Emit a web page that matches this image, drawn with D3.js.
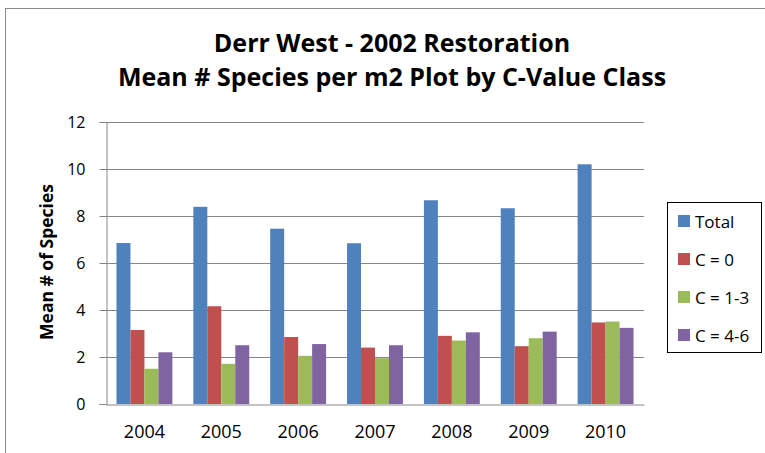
<!DOCTYPE html>
<html lang="en">
  <head>
    <meta charset="UTF-8" />
    <title>Derr West - 2002 Restoration</title>
    <script src="https://cdn.jsdelivr.net/npm/d3@7"></script>
    <style>
      body { margin: 0; background: #fff; }
      svg { display: block; font-family: "Open Sans", "Noto Sans", sans-serif; }
    </style>
  </head>
  <body>
    <svg width="765" height="453"></svg>
    <script>
      const years = ["2004", "2005", "2006", "2007", "2008", "2009", "2010"];
      const seriesNames = ["Total", "C = 0", "C = 1-3", "C = 4-6"];
      const total = [6.85, 8.39, 7.46, 6.84, 8.67, 8.33, 10.2];
      const c0 = [3.15, 4.16, 2.85, 2.4, 2.9, 2.46, 3.47];
      const c13 = [1.5, 1.71, 2.05, 1.95, 2.7, 2.8, 3.51];
      const c46 = [2.2, 2.5, 2.55, 2.5, 3.05, 3.08, 3.24];
      const yTicks = [0, 2, 4, 6, 8, 10, 12];
      const colors = ["#4F81BD", "#C0504D", "#9BBB59", "#8064A2"];

      const series = [total, c0, c13, c46];
      const svg = d3.select("svg");

      // chart frame
      svg.append("rect")
        .attr("x", 5.5).attr("y", 8.5)
        .attr("width", 800).attr("height", 500)
        .attr("fill", "none").attr("stroke", "#8a8a8a");

      const plotL = 106, plotR = 644, plotT = 122, plotB = 404;

      const x = d3.scaleBand().domain(years).range([plotL, plotR]).padding(0);
      const inner = d3.scaleBand().domain(d3.range(4))
        .range([0, x.bandwidth()]).paddingOuter(0.75).paddingInner(0);
      const y = d3.scaleLinear().domain([0, 12]).range([plotB, plotT]);

      // gridlines
      svg.append("g").selectAll("line")
        .data(yTicks.filter(d => d > 0))
        .join("line")
        .attr("x1", plotL).attr("x2", plotR)
        .attr("y1", d => Math.round(y(d)) + 0.5).attr("y2", d => Math.round(y(d)) + 0.5)
        .attr("stroke", "#868686").attr("stroke-width", 1);

      // bars
      svg.append("g").selectAll("g")
        .data(series)
        .join("g")
        .attr("fill", (d, i) => colors[i])
        .each(function (vals, si) {
          d3.select(this).selectAll("rect")
            .data(vals)
            .join("rect")
            .attr("x", (d, i) => x(years[i]) + inner(si))
            .attr("width", inner.bandwidth())
            .attr("y", d => y(d))
            .attr("height", d => y(0) - y(d));
        });

      // y axis
      const yAxis = d3.axisLeft(y).tickValues(yTicks).tickSize(7).tickPadding(14);
      const gy = svg.append("g")
        .attr("transform", `translate(${plotL + 0.5},0)`)
        .call(yAxis);
      gy.select(".domain").attr("stroke", "#868686");
      gy.selectAll(".tick line").attr("stroke", "#868686");
      gy.selectAll(".tick text")
        .attr("font-size", 16).attr("fill", "#000")
        .attr("font-family", "'Open Sans', sans-serif");

      // x axis
      const gx = svg.append("g")
        .attr("transform", `translate(0,${plotB + 0.5})`)
        .call(d3.axisBottom(x).tickSize(0).tickPadding(21));
      gx.select(".domain").attr("stroke", "#868686");
      gx.selectAll(".tick text")
        .attr("font-size", 18).attr("fill", "#000")
        .attr("font-family", "'Open Sans', sans-serif");

      // titles
      svg.append("text")
        .attr("x", 392).attr("y", 52)
        .attr("text-anchor", "middle")
        .attr("font-size", 25).attr("font-weight", "bold")
        .text("Derr West - 2002 Restoration");
      svg.append("text")
        .attr("x", 392).attr("y", 86)
        .attr("text-anchor", "middle")
        .attr("font-size", 25).attr("font-weight", "bold")
        .text("Mean # Species per m2 Plot by C-Value Class");

      svg.append("text")
        .attr("transform", "translate(53,262) rotate(-90)")
        .attr("text-anchor", "middle")
        .attr("font-size", 17.5).attr("font-weight", "bold")
        .text("Mean # of Species");

      // legend
      const legend = svg.append("g");
      legend.append("rect")
        .attr("x", 667.5).attr("y", 202.5)
        .attr("width", 94).attr("height", 150)
        .attr("fill", "#fff").attr("stroke", "#000");
      const item = legend.selectAll("g.item")
        .data(seriesNames)
        .join("g")
        .attr("class", "item")
        .attr("transform", (d, i) => `translate(678,${221 + i * 38})`);
      item.append("rect")
        .attr("x", 0).attr("y", -6)
        .attr("width", 12).attr("height", 12)
        .attr("fill", (d, i) => colors[i]);
      item.append("text")
        .attr("x", 17).attr("y", 6.5)
        .attr("font-size", 17)
        .text(d => d);
    </script>
  </body>
</html>
